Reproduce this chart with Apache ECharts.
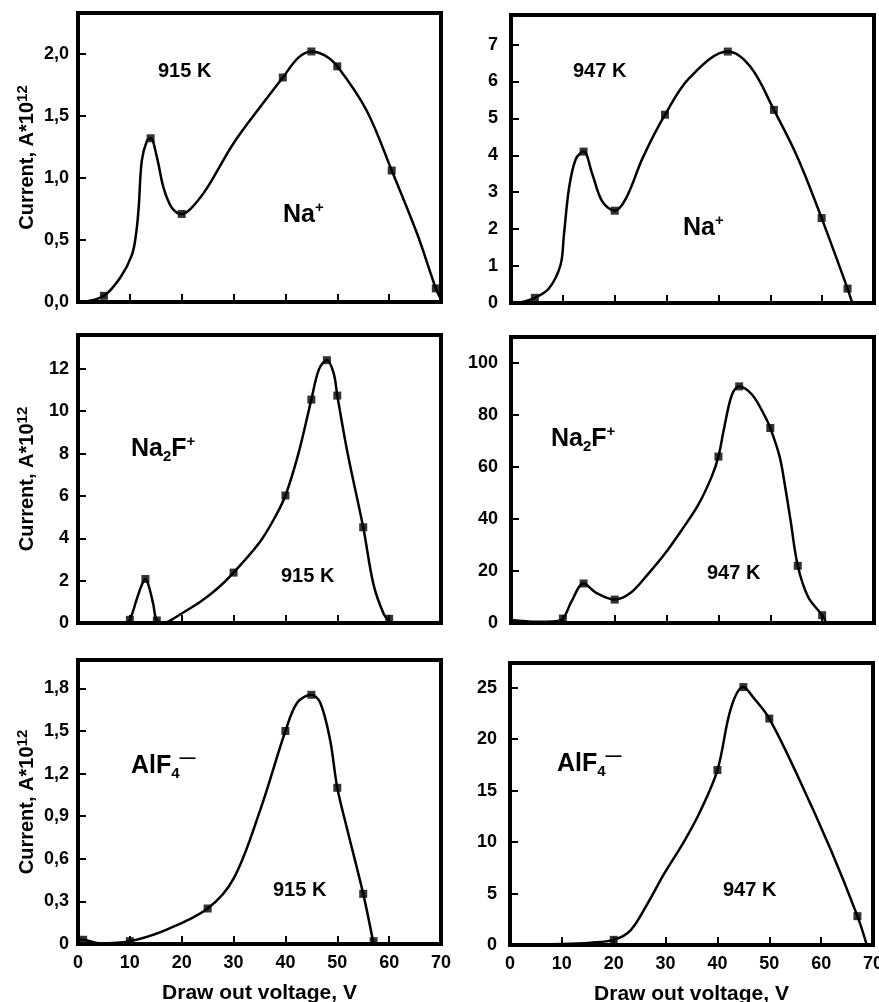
<!DOCTYPE html>
<html>
<head>
<meta charset="utf-8">
<script src="https://cdn.jsdelivr.net/npm/echarts@6/dist/echarts.min.js"></script>
<style>
html, body { margin: 0; padding: 0; background: #fff; }
#chart { width: 879px; height: 1002px; }
</style>
</head>
<body>
<div id="chart"></div>
<script>
var na915X = [5, 14, 20, 39.5, 45, 50, 60.5, 69];
var na915Y = [0.05, 1.32, 0.71, 1.81, 2.02, 1.90, 1.06, 0.11];
var na915Curve = [[1, 0], [5, 0.05], [8.2, 0.2], [10.4, 0.38], [11.2, 0.55], [11.7, 0.76], [12.3, 1.14], [13.3, 1.30],
    [14, 1.32], [15.2, 1.17], [16.5, 0.92], [18.1, 0.76], [20, 0.71], [21.7, 0.75], [24.9, 0.92], [30, 1.28],
    [36, 1.62], [39.5, 1.81], [42.5, 1.97], [45, 2.02], [47.5, 1.99], [50, 1.90], [55.7, 1.54], [60.5, 1.06],
    [65.4, 0.55], [69, 0.11], [70, 0.02]];

var na947X = [4.6, 14, 20, 29.7, 41.8, 50.7, 59.9, 64.9];
var na947Y = [0.14, 4.1, 2.5, 5.1, 6.81, 5.23, 2.3, 0.39];
var na947Curve = [[1.4, 0], [4.6, 0.14], [7.3, 0.39], [9.55, 1.03], [10.2, 1.84], [11.2, 3.12], [12.5, 3.9], [14, 4.1],
    [15.7, 3.48], [17.6, 2.75], [20, 2.5], [22.2, 2.84], [25.4, 3.93], [29.7, 5.1], [34.5, 6.11], [41.8, 6.81],
    [46.2, 6.39], [50.7, 5.23], [55.3, 3.93], [59.9, 2.3], [64.9, 0.39], [65.8, 0]];

var na2f915X = [10, 13, 15.2, 30, 40, 45, 48, 50, 55, 60];
var na2f915Y = [0.15, 2.08, 0.12, 2.38, 6.02, 10.55, 12.41, 10.74, 4.52, 0.2];
var na2f915Curve = [[9.2, 0], [10, 0.15], [11.3, 1.1], [12.3, 1.8], [13, 2.08], [13.7, 1.7], [14.5, 0.9], [15.2, 0.12],
    [16.5, 0], [18, 0.15], [20, 0.45], [23.6, 1.0], [27, 1.65], [30, 2.38], [35, 3.8], [38, 5.0], [40, 6.02],
    [42.5, 8.0], [45, 10.55], [46.5, 12.0], [48, 12.41], [49.3, 11.8], [50, 10.74], [52, 8.0], [55, 4.52],
    [57, 1.8], [59, 0.4], [60, 0.1]];

var na2f947X = [10, 14, 20, 40, 44, 50, 55.3, 60];
var na2f947Y = [1.7, 15.2, 9.0, 64, 91, 75, 22, 3];
var na2f947Curve = [[0, 1.2], [5, 0.5], [8, 0.6], [10, 1.7], [11.6, 8], [14, 15.2], [16.5, 11.5], [20, 9.0],
    [23, 11.5], [26.5, 19], [29.7, 26.7], [32.9, 35.7], [36.1, 45.4], [38.7, 56.3], [40, 64], [41, 74], [42.6, 87.8],
    [44, 91], [46.5, 87.8], [49, 79.4], [50, 75], [51.8, 64], [52.9, 52], [53.9, 39.6], [55.3, 22], [57.3, 10],
    [60, 3], [60.8, 0]];

var alf915X = [1, 10, 25, 40, 45, 50, 55, 57];
var alf915Y = [0.03, 0.02, 0.25, 1.50, 1.755, 1.10, 0.353, 0.02];
var alf915Curve = [[0, 0.03], [1, 0.03], [4, 0.005], [10, 0.02], [17, 0.1], [25, 0.25], [30, 0.46], [35.2, 0.95],
    [40, 1.50], [42.3, 1.70], [45, 1.755], [46.7, 1.70], [48.6, 1.44], [50, 1.10], [51.9, 0.81], [55, 0.353],
    [57, 0]];

var alf947X = [20, 40, 45, 50, 67];
var alf947Y = [0.5, 17, 25.06, 22, 2.8];
var alf947Curve = [[0, 0], [10, 0.1], [15.5, 0.23], [20, 0.5], [23.2, 1.4], [26.5, 4.0], [29.7, 6.9], [33.5, 10.0],
    [36.5, 12.8], [40, 17], [42.6, 23], [45, 25.06], [47, 24], [50, 22], [55.5, 16.4], [61.9, 9.2], [67, 2.8],
    [68.8, 0]];

// tick labels
var voltTicks = ['0', '10', '20', '30', '40', '50', '60', '70'];
var na915Ticks = ['0,0', '0,5', '1,0', '1,5', '2,0'];
var na947Ticks = ['0', '1', '2', '3', '4', '5', '6', '7'];
var na2f915Ticks = ['0', '2', '4', '6', '8', '10', '12'];
var na2f947Ticks = ['0', '20', '40', '60', '80', '100'];
var alf915Ticks = ['0', '0,3', '0,6', '0,9', '1,2', '1,5', '1,8'];
var alf947Ticks = ['0', '5', '10', '15', '20', '25'];

var FONT = '"Liberation Sans", Arial, sans-serif';

var panels = [
    {grid: {left: 78, top: 13, width: 363, height: 289}, max: 2.33, step: 0.5, ticks: na915Ticks, xs: na915X, ys: na915Y, curve: na915Curve},
    {grid: {left: 511, top: 15, width: 363, height: 288}, max: 7.8, step: 1, ticks: na947Ticks, xs: na947X, ys: na947Y, curve: na947Curve},
    {grid: {left: 78, top: 335, width: 363, height: 288}, max: 13.6, step: 2, ticks: na2f915Ticks, xs: na2f915X, ys: na2f915Y, curve: na2f915Curve},
    {grid: {left: 511, top: 337, width: 363, height: 286}, max: 110, step: 20, ticks: na2f947Ticks, xs: na2f947X, ys: na2f947Y, curve: na2f947Curve},
    {grid: {left: 78, top: 660, width: 363, height: 284}, max: 2.0, step: 0.3, ticks: alf915Ticks, xs: alf915X, ys: alf915Y, curve: alf915Curve},
    {grid: {left: 510, top: 663, width: 363, height: 282}, max: 27.4, step: 5, ticks: alf947Ticks, xs: alf947X, ys: alf947Y, curve: alf947Curve}
];

function tickFormatter(ticks, step) {
    return function (v) {
        var i = Math.round(v / step);
        if (Math.abs(v / step - i) > 1e-6) return '';
        return ticks[i] || '';
    };
}

var ionRich = {
    n: {fontSize: 25, fontWeight: 'bold', fontFamily: FONT, lineHeight: 30, color: '#000'},
    sup: {fontSize: 15, fontWeight: 'bold', fontFamily: FONT, lineHeight: 20, verticalAlign: 'top', color: '#000'},
    sub: {fontSize: 15, fontWeight: 'bold', fontFamily: FONT, lineHeight: 12, verticalAlign: 'bottom', color: '#000'},
    dash: {fontSize: 16, fontWeight: 'bold', fontFamily: FONT, lineHeight: 9, verticalAlign: 'top', color: '#000'}
};

function ion(left, top, text) {
    return {type: 'text', left: left, top: top, z: 100, style: {text: text, rich: ionRich, fill: '#000'}};
}

function temp(left, top, text) {
    return {type: 'text', left: left, top: top, z: 100,
        style: {text: text, fontSize: 20, fontWeight: 'bold', fontFamily: FONT, fill: '#000'}};
}

var myChart = echarts.init(document.getElementById('chart'));

var grids = [], xAxes = [], yAxes = [], series = [];

panels.forEach(function (p, i) {
    var bottom = i >= 4;
    var left = i % 2 === 0;
    grids.push(Object.assign({
        show: true, borderColor: '#000', borderWidth: 4, backgroundColor: 'transparent',
        containLabel: false, outerBoundsMode: 'none'
    }, p.grid));

    xAxes.push({
        gridIndex: i, type: 'value', min: 0, max: 70, interval: 10,
        axisLine: {show: false},
        splitLine: {show: false},
        axisTick: {show: true, inside: true, length: 8, lineStyle: {color: '#000', width: 2}},
        axisLabel: {
            show: bottom, margin: 10, color: '#000', fontSize: 18, fontWeight: 'bold', fontFamily: FONT,
            formatter: tickFormatter(voltTicks, 10)
        },
        name: bottom ? 'Draw out voltage, V' : '',
        nameLocation: 'middle', nameGap: 39,
        nameTextStyle: {color: '#000', fontSize: 21, fontWeight: 'bold', fontFamily: FONT}
    });

    yAxes.push({
        gridIndex: i, type: 'value', min: 0, max: p.max, interval: p.step,
        axisLine: {show: false},
        splitLine: {show: false},
        axisTick: {show: true, inside: true, length: 8, lineStyle: {color: '#000', width: 2}},
        axisLabel: {
            margin: left ? 9 : 13, color: '#000', fontSize: 18, fontWeight: 'bold', fontFamily: FONT,
            showMaxLabel: false, formatter: tickFormatter(p.ticks, p.step)
        },
        name: left ? 'Current, A*10{sup|12}' : '',
        nameLocation: 'middle', nameGap: 39, nameRotate: 90,
        nameTextStyle: {
            color: '#000', fontSize: 20, fontWeight: 'bold', fontFamily: FONT, lineHeight: 24,
            rich: {sup: {fontSize: 15, fontWeight: 'bold', fontFamily: FONT, color: '#000', lineHeight: 16, verticalAlign: 'top'}}
        }
    });

    series.push({
        type: 'line', xAxisIndex: i, yAxisIndex: i, data: p.curve,
        showSymbol: false, symbol: 'none', smooth: 0.35, silent: true,
        lineStyle: {color: '#000', width: 2.5}
    });

    series.push({
        type: 'scatter', xAxisIndex: i, yAxisIndex: i, z: 5,
        data: p.xs.map(function (x, k) { return [x, p.ys[k]]; }),
        symbol: 'rect', symbolSize: 8, itemStyle: {color: '#000'}
    });
});

var option = {
    animation: false,
    backgroundColor: '#fff',
    grid: grids,
    xAxis: xAxes,
    yAxis: yAxes,
    series: series,
    graphic: [
        temp(158, 61.5, '915 K'),
        temp(573, 61.5, '947 K'),
        temp(281, 566.5, '915 K'),
        temp(707, 563, '947 K'),
        temp(273, 880, '915 K'),
        temp(723, 880, '947 K'),
        ion(283, 200.6, '{n|Na}{sup|+}'),
        ion(683, 213, '{n|Na}{sup|+}'),
        ion(131, 434, '{n|Na}{sub|2}{n|F}{sup|+}'),
        ion(551, 424, '{n|Na}{sub|2}{n|F}{sup|+}'),
        ion(131, 751, '{n|AlF}{sub|4}{dash|—}'),
        ion(557, 749, '{n|AlF}{sub|4}{dash|—}')
    ]
};

myChart.setOption(option);
</script>
</body>
</html>
